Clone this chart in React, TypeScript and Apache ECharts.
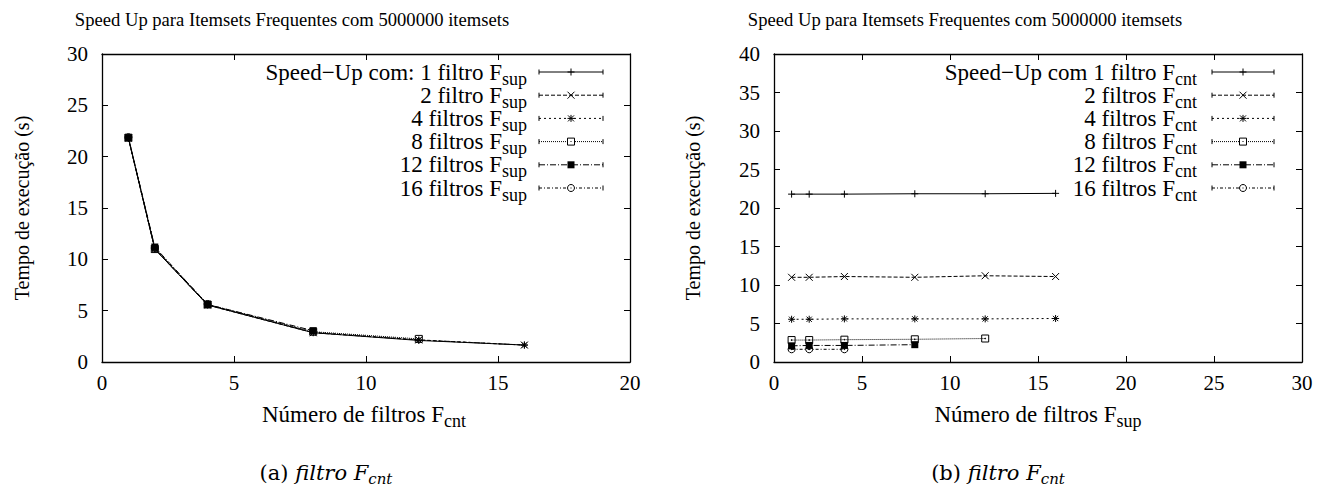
import React, { useEffect, useRef } from "react";
import * as echarts from "echarts";

// Number of filters (x values on both charts)
const filterCounts = [1, 2, 4, 8, 12, 16];

// Execution time (s) for each F_cnt count, across F_sup counts 1,2,4,8,12,16
const cnt1 = [21.8, 21.8, 21.8, 21.85, 21.85, 21.9];
const cnt2 = [11.0, 11.0, 11.1, 11.0, 11.2, 11.1];
const cnt4 = [5.55, 5.55, 5.6, 5.6, 5.6, 5.65];
const cnt8 = [2.85, 2.85, 2.9, 2.95, 3.05];
const cnt12 = [2.1, 2.15, 2.15, 2.25];
const cnt16 = [1.65, 1.65, 1.65];
const cntRows = [cnt1, cnt2, cnt4, cnt8, cnt12, cnt16];

const titleText = "Speed Up para Itemsets Frequentes com 5000000 itemsets";
const leftLegend = [
  "Speed−Up com: 1 filtro F",
  "2 filtro F",
  "4 filtros F",
  "8 filtros F",
  "12 filtros F",
  "16 filtros F",
];
const rightLegend = [
  "Speed−Up com 1 filtro F",
  "2 filtros F",
  "4 filtros F",
  "8 filtros F",
  "12 filtros F",
  "16 filtros F",
];
const leftSub = "sup";
const rightSub = "cnt";
const yAxisName = "Tempo de execução (s)";
const xNameMain = "Número de filtros F";
const leftXSub = "cnt";
const rightXSub = "sup";
const captionA = "(a) ";
const captionB = "(b) ";
const captionRest = "filtro F";
const captionSub = "cnt";

const leftX = { min: 0, max: 20, interval: 5 };
const leftY = { min: 0, max: 30, interval: 5 };
const rightX = { min: 0, max: 30, interval: 5 };
const rightY = { min: 0, max: 40, interval: 5 };

const FONT = "'Liberation Serif', 'Times New Roman', serif";
const CAPFONT = "'DejaVu Serif', serif";

const dashes: any[] = ["solid", [4, 2], [2, 3], [1, 1], [6, 2, 1, 2], [3, 2, 1, 2]];
const markerKinds = ["plus", "cross", "star", "box", "filled", "circle"];

function symbolFor(kind: string): any {
  switch (kind) {
    case "plus":
      return { symbol: "path://M0,4 L8,4 M4,0 L4,8", itemStyle: { color: "#000", borderColor: "#000", borderWidth: 1 } };
    case "cross":
      return { symbol: "path://M0,0 L8,8 M8,0 L0,8", itemStyle: { color: "#000", borderColor: "#000", borderWidth: 1 } };
    case "star":
      return {
        symbol: "path://M0,4 L8,4 M4,0 L4,8 M1,1 L7,7 M7,1 L1,7",
        itemStyle: { color: "#000", borderColor: "#000", borderWidth: 1 },
      };
    case "box":
      return {
        symbol: "path://M0,0 L8,0 L8,8 L0,8 Z M3.6,3.6 L4.4,3.6 L4.4,4.4 L3.6,4.4 Z",
        itemStyle: { color: "rgba(0,0,0,0)", borderColor: "#000", borderWidth: 1 },
      };
    case "filled":
      return { symbol: "rect", itemStyle: { color: "#000", borderWidth: 0 } };
    default:
      return {
        symbol: "path://M4,0 A4,4 0 1,1 3.99,0 Z M3.6,3.6 L4.4,3.6 L4.4,4.4 L3.6,4.4 Z",
        itemStyle: { color: "rgba(0,0,0,0)", borderColor: "#000", borderWidth: 1 },
      };
  }
}

function legendMarker(kind: string, cx: number, cy: number): any[] {
  const r = 3.5;
  const st = { stroke: "#000", lineWidth: 1 };
  const ln = (x1: number, y1: number, x2: number, y2: number) => ({
    type: "line",
    shape: { x1, y1, x2, y2 },
    style: st,
  });
  switch (kind) {
    case "plus":
      return [ln(cx - r, cy, cx + r, cy), ln(cx, cy - r, cx, cy + r)];
    case "cross":
      return [ln(cx - r, cy - r, cx + r, cy + r), ln(cx + r, cy - r, cx - r, cy + r)];
    case "star":
      return [
        ln(cx - r, cy, cx + r, cy),
        ln(cx, cy - r, cx, cy + r),
        ln(cx - 3, cy - 3, cx + 3, cy + 3),
        ln(cx + 3, cy - 3, cx - 3, cy + 3),
      ];
    case "box":
      return [
        { type: "rect", shape: { x: cx - r, y: cy - r, width: 2 * r, height: 2 * r }, style: { fill: "#fff", stroke: "#000", lineWidth: 1 } },
        { type: "rect", shape: { x: cx - 0.5, y: cy - 0.5, width: 1, height: 1 }, style: { fill: "#000" } },
      ];
    case "filled":
      return [{ type: "rect", shape: { x: cx - r, y: cy - r, width: 2 * r, height: 2 * r }, style: { fill: "#000" } }];
    default:
      return [
        { type: "circle", shape: { cx, cy, r }, style: { fill: "#fff", stroke: "#000", lineWidth: 1 } },
        { type: "rect", shape: { x: cx - 0.5, y: cy - 0.5, width: 1, height: 1 }, style: { fill: "#000" } },
      ];
  }
}

function subRich(main: number, sub: number, drop: number) {
  return {
    m: { fontFamily: FONT, fontSize: main, color: "#000" },
    s: { fontFamily: FONT, fontSize: sub, color: "#000", padding: [drop, 0, 0, 0] },
  };
}

function legendGraphic(labels: string[], sub: string, textRight: number, lineX1: number, lineX2: number, rowY0: number, rowStep: number): any[] {
  const els: any[] = [];
  labels.forEach((lab, i) => {
    const y = rowY0 + i * rowStep;
    els.push({
      type: "text",
      style: {
        text: `{m|${lab}}{s|${sub}}`,
        x: textRight,
        y,
        align: "right",
        verticalAlign: "middle",
        rich: subRich(23, 18, 13),
      },
    });
    els.push({
      type: "line",
      shape: { x1: lineX1, y1: y, x2: lineX2, y2: y },
      style: { stroke: "#000", lineWidth: 1, lineDash: dashes[i] === "solid" ? null : dashes[i] },
    });
    els.push({ type: "line", shape: { x1: lineX1, y1: y - 2.5, x2: lineX1, y2: y + 2.5 }, style: { stroke: "#000", lineWidth: 1 } });
    els.push({ type: "line", shape: { x1: lineX2, y1: y - 2.5, x2: lineX2, y2: y + 2.5 }, style: { stroke: "#000", lineWidth: 1 } });
    legendMarker(markerKinds[i], (lineX1 + lineX2) / 2, y).forEach((e) => els.push(e));
  });
  return els;
}

function textWithSub(main: string, sub: string, x: number, y: number): any {
  return {
    type: "text",
    style: {
      text: `{m|${main}}{s|${sub}}`,
      x,
      y,
      align: "center",
      verticalAlign: "middle",
      rich: subRich(23, 18, 13),
    },
  };
}

function caption(prefix: string, x: number, y: number): any {
  return {
    type: "text",
    style: {
      text: `{u|${prefix}}{i|${captionRest}}{s|${captionSub}}`,
      x,
      y,
      align: "center",
      verticalAlign: "middle",
      rich: {
        u: { fontFamily: CAPFONT, fontSize: 21, color: "#000" },
        i: { fontFamily: CAPFONT, fontSize: 21, fontStyle: "italic", color: "#000" },
        s: { fontFamily: CAPFONT, fontSize: 15, fontStyle: "italic", color: "#000", padding: [11, 0, 0, 0] },
      },
    },
  };
}

export default function App() {
  const ref = useRef<HTMLDivElement>(null);
  useEffect(() => {
    if (!ref.current) return;
    const chart = echarts.init(ref.current, null as any, { renderer: "svg" });

    const axisCommon = {
      axisLine: { show: true, onZero: false, lineStyle: { color: "#000", width: 1.3 } },
      axisTick: { show: true, inside: true, length: 6, lineStyle: { color: "#000", width: 1 } },
      splitLine: { show: false },
      axisLabel: { color: "#000", fontFamily: FONT, fontSize: 21 },
    };
    const mk = (gridIndex: number, position: string, r: any, isX: boolean, labels: boolean) => ({
      type: "value",
      gridIndex,
      position,
      min: r.min,
      max: r.max,
      interval: r.interval,
      ...axisCommon,
      axisLabel: { ...axisCommon.axisLabel, show: labels, margin: isX ? 10 : 14 },
    });

    const series: any[] = [];
    // Left chart: x = F_cnt, one series per F_sup count
    filterCounts.forEach((_, k) => {
      const data: number[][] = [];
      cntRows.forEach((row, i) => {
        if (row[k] !== undefined) data.push([filterCounts[i], row[k]]);
      });
      const sym = symbolFor(markerKinds[k]);
      series.push({
        type: "line",
        xAxisIndex: 0,
        yAxisIndex: 0,
        data,
        symbol: sym.symbol,
        symbolSize: 7,
        itemStyle: sym.itemStyle,
        lineStyle: { color: "#000", width: 1, type: dashes[k] },
        emphasis: { disabled: true },
        z: 2 + k,
      });
    });
    // Right chart: x = F_sup, one series per F_cnt count
    cntRows.forEach((row, i) => {
      const data = row.map((v, k) => [filterCounts[k], v]);
      const sym = symbolFor(markerKinds[i]);
      series.push({
        type: "line",
        xAxisIndex: 2,
        yAxisIndex: 2,
        data,
        symbol: sym.symbol,
        symbolSize: 7,
        itemStyle: sym.itemStyle,
        lineStyle: { color: "#000", width: 1, type: dashes[i] },
        emphasis: { disabled: true },
        z: 2 + i,
      });
    });

    const graphics: any[] = [
      { type: "text", style: { text: titleText, x: 292, y: 19, align: "center", verticalAlign: "middle", fontFamily: FONT, fontSize: 18.6, fill: "#000" } },
      { type: "text", style: { text: titleText, x: 965, y: 19, align: "center", verticalAlign: "middle", fontFamily: FONT, fontSize: 18.6, fill: "#000" } },
      { type: "text", rotation: Math.PI / 2, x: 22, y: 208, style: { text: yAxisName, x: 0, y: 0, align: "center", verticalAlign: "middle", fontFamily: FONT, fontSize: 20, fill: "#000" } },
      { type: "text", rotation: Math.PI / 2, x: 693, y: 208, style: { text: yAxisName, x: 0, y: 0, align: "center", verticalAlign: "middle", fontFamily: FONT, fontSize: 20, fill: "#000" } },
      textWithSub(xNameMain, leftXSub, 364, 414),
      textWithSub(xNameMain, rightXSub, 1038, 414),
      caption(captionA, 326, 473),
      caption(captionB, 998, 473),
      ...legendGraphic(leftLegend, leftSub, 527, 539, 603, 72, 23.2),
      ...legendGraphic(rightLegend, rightSub, 1197, 1212, 1274, 72, 23.2),
    ];

    chart.setOption({
      animation: false,
      backgroundColor: "#fff",
      grid: [
        { left: 102, top: 54, width: 528, height: 308 },
        { left: 774, top: 54, width: 528, height: 308 },
      ],
      xAxis: [
        mk(0, "bottom", leftX, true, true),
        mk(0, "top", leftX, true, false),
        mk(1, "bottom", rightX, true, true),
        mk(1, "top", rightX, true, false),
      ],
      yAxis: [
        mk(0, "left", leftY, false, true),
        mk(0, "right", leftY, false, false),
        mk(1, "left", rightY, false, true),
        mk(1, "right", rightY, false, false),
      ],
      series,
      graphic: { elements: graphics },
    });
    return () => chart.dispose();
  }, []);
  return <div ref={ref} style={{ position: "fixed", left: 0, top: 0, width: 1328, height: 498 }} />;
}
